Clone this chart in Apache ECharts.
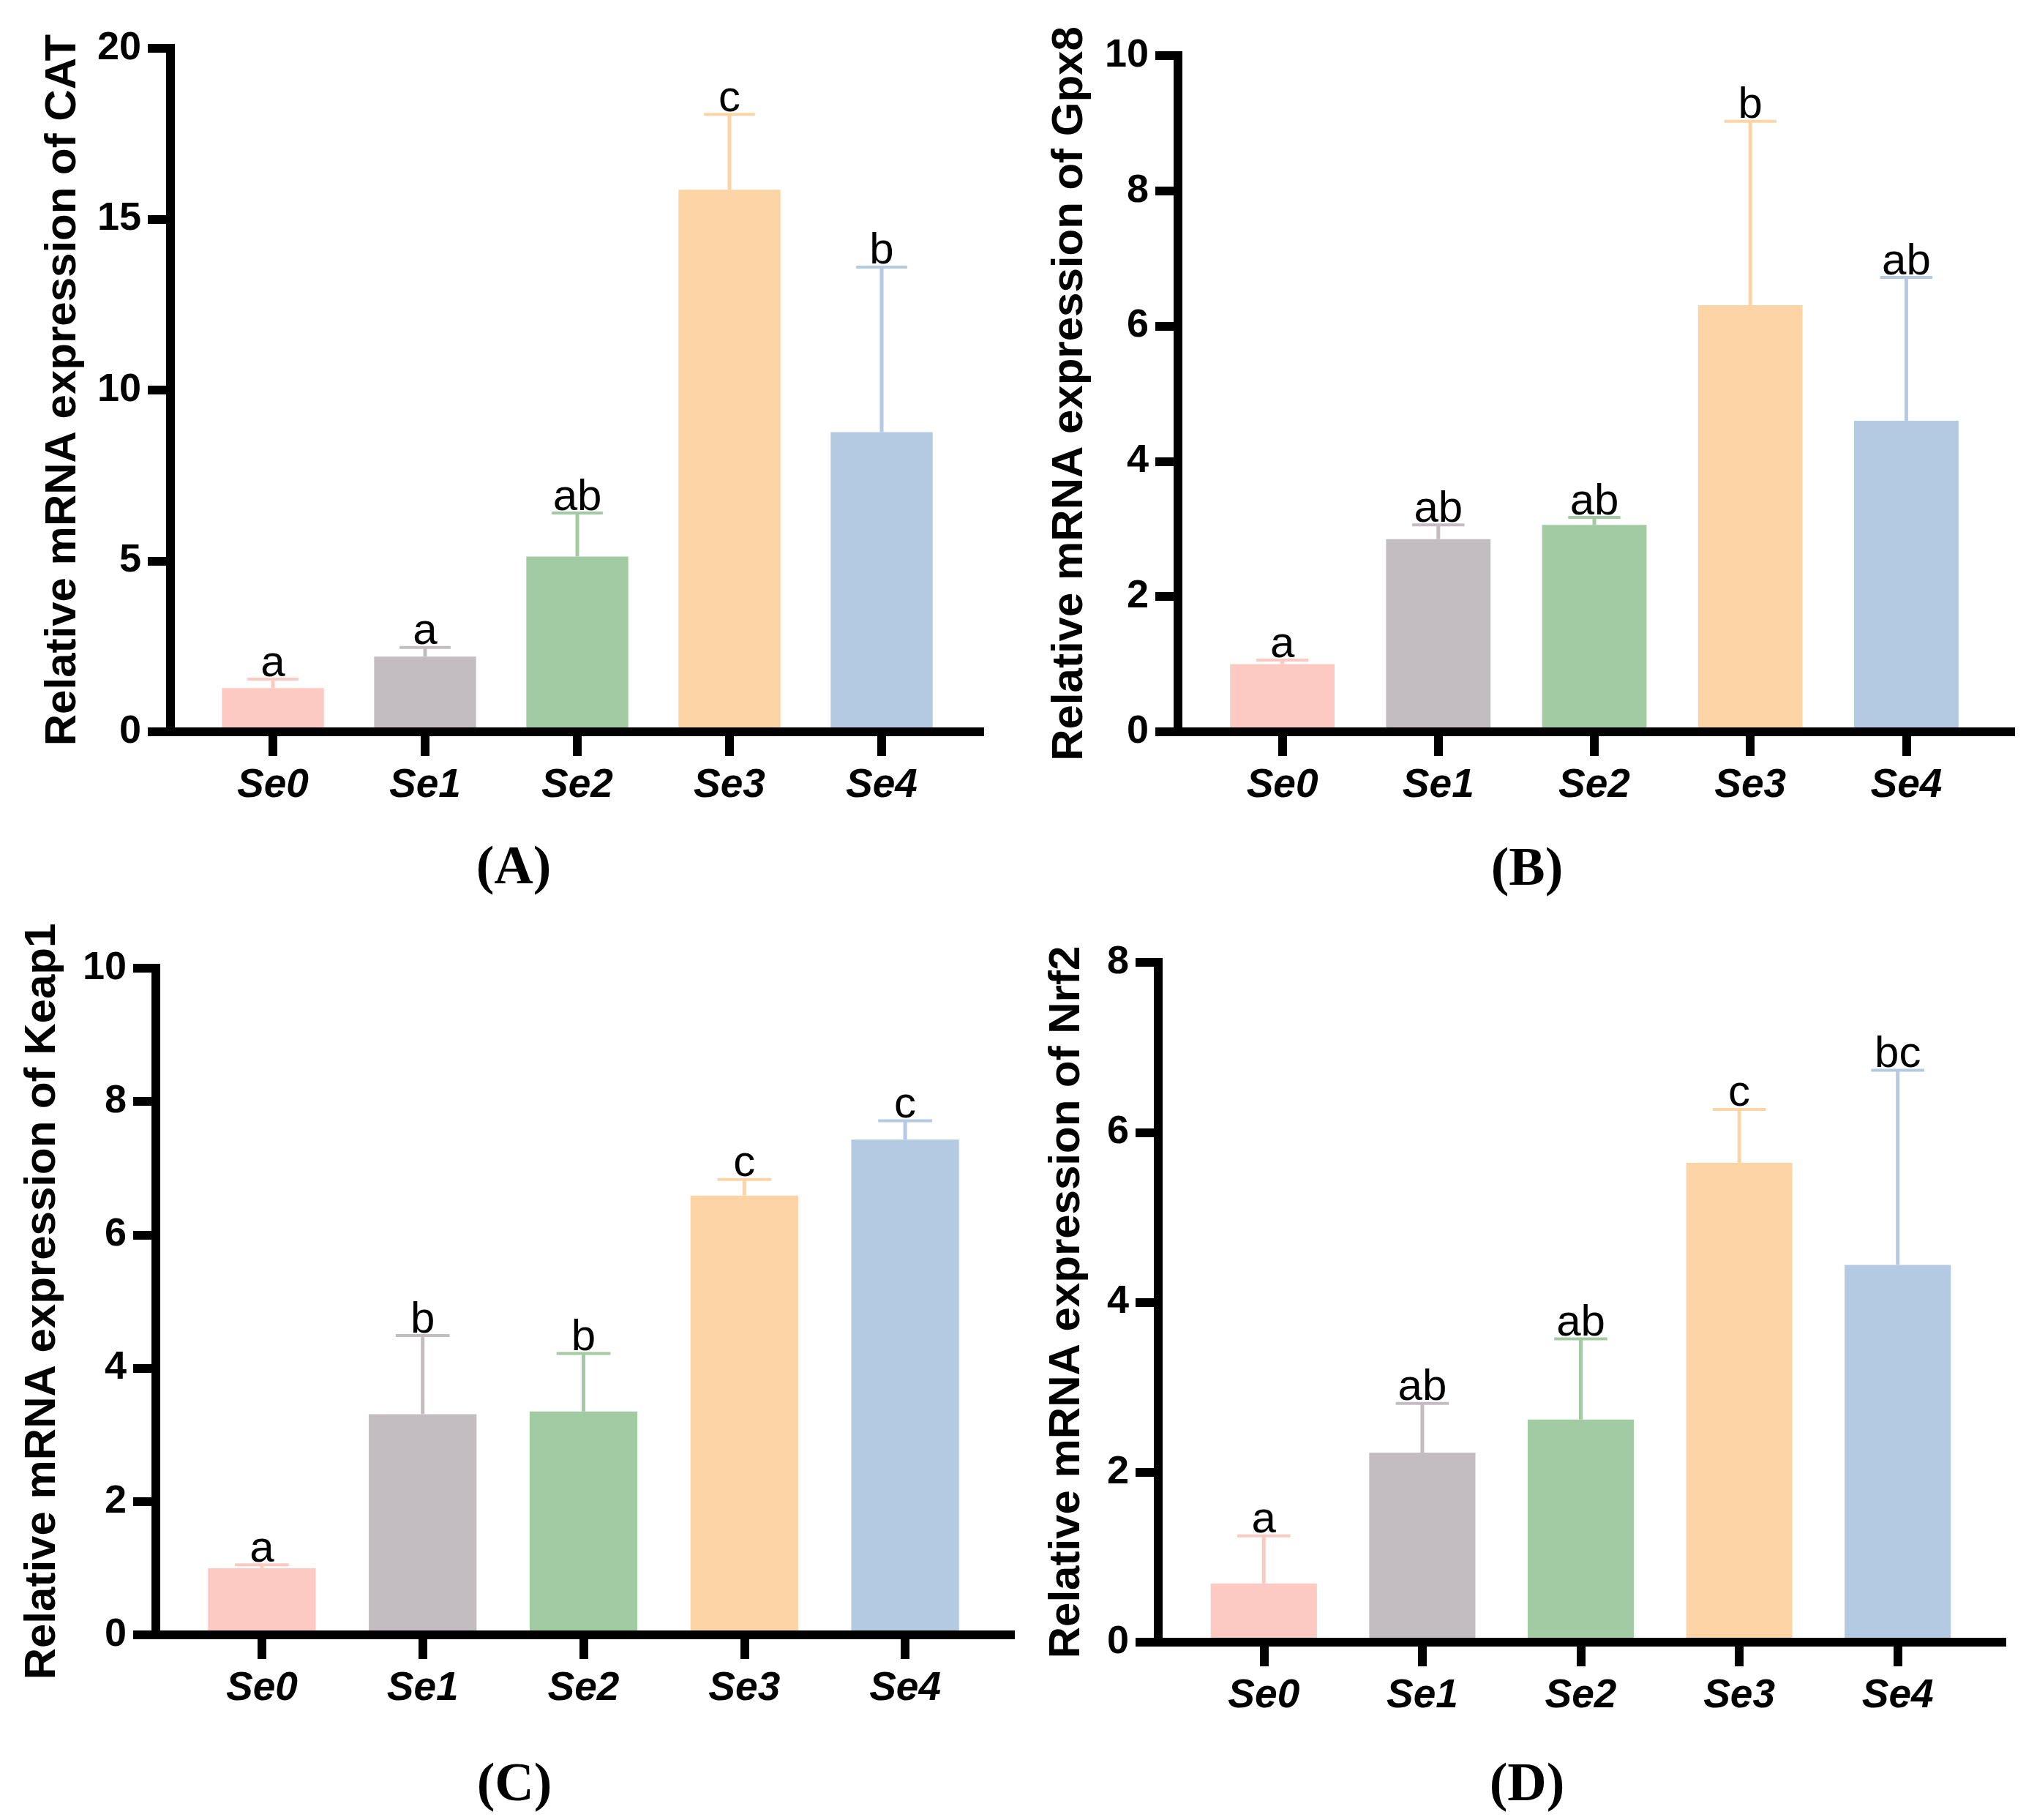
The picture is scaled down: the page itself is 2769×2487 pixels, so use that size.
<!DOCTYPE html>
<html>
<head>
<meta charset="utf-8">
<script src="https://cdn.jsdelivr.net/npm/echarts@6/dist/echarts.min.js"></script>
<style>
  html, body { margin: 0; padding: 0; background: #fff; }
  #chart { width: 2769px; height: 2487px; }
</style>
</head>
<body>
<div id="chart"></div>
<script>
// groups on the x axis
const categories = ['Se0', 'Se1', 'Se2', 'Se3', 'Se4'];
const barColors = ['#FDCAC3', '#C3BDC1', '#A3CBA3', '#FDD4A6', '#B4C9E2'];

// (A) CAT
const catMean = [1.28, 2.2, 5.13, 15.86, 8.77];
const catSd = [0.26, 0.27, 1.27, 2.21, 4.83];
const catLetters = ['a', 'a', 'ab', 'c', 'b'];
const catTicks = [0, 5, 10, 15, 20];

// (B) Gpx8
const gpx8Mean = [1.0, 2.85, 3.06, 6.31, 4.6];
const gpx8Sd = [0.06, 0.21, 0.11, 2.72, 2.12];
const gpx8Letters = ['a', 'ab', 'ab', 'b', 'ab'];
const gpx8Ticks = [0, 2, 4, 6, 8, 10];

// (C) Keap1
const keap1Mean = [1.0, 3.31, 3.35, 6.59, 7.43];
const keap1Sd = [0.05, 1.18, 0.87, 0.24, 0.28];
const keap1Letters = ['a', 'b', 'b', 'c', 'c'];
const keap1Ticks = [0, 2, 4, 6, 8, 10];

// (D) Nrf2
const nrf2Mean = [0.69, 2.23, 2.62, 5.64, 4.44];
const nrf2Sd = [0.56, 0.58, 0.95, 0.63, 2.29];
const nrf2Letters = ['a', 'ab', 'ab', 'c', 'bc'];
const nrf2Ticks = [0, 2, 4, 6, 8];

const panels = [
  { tag: '(A)', title: 'Relative mRNA expression of CAT', mean: catMean, sd: catSd, letters: catLetters, ticks: catTicks },
  { tag: '(B)', title: 'Relative mRNA expression of Gpx8', mean: gpx8Mean, sd: gpx8Sd, letters: gpx8Letters, ticks: gpx8Ticks },
  { tag: '(C)', title: 'Relative mRNA expression of Keap1', mean: keap1Mean, sd: keap1Sd, letters: keap1Letters, ticks: keap1Ticks },
  { tag: '(D)', title: 'Relative mRNA expression of Nrf2', mean: nrf2Mean, sd: nrf2Sd, letters: nrf2Letters, ticks: nrf2Ticks },
];

// pixel layout of each panel (axis position, plot band, title gap, tag position)
const layout = [
  { axisX: 233, top: 66, zero: 1000, axisEnd: 1345, bandStart: 269, bandEnd: 1309, nameGap: 117, tagX: 702, tagY: 1188 },
  { axisX: 1610, top: 76, zero: 1000, axisEnd: 2754, bandStart: 1646, bandEnd: 2712, nameGap: 118, tagX: 2087, tagY: 1190 },
  { axisX: 213, top: 1323, zero: 2234, axisEnd: 1387, bandStart: 248, bandEnd: 1347, nameGap: 125, tagX: 703, tagY: 2441 },
  { axisX: 1583, top: 1315, zero: 2244, axisEnd: 2742, bandStart: 1619, bandEnd: 2702, nameGap: 95, tagX: 2087, tagY: 2441 },
];

const SANS = 'Liberation Sans';
const axisStroke = { color: '#000', width: 12, cap: 'square' };

const grid = [], xAxis = [], yAxis = [], series = [], graphic = [];

panels.forEach((p, i) => {
  const L = layout[i];
  const h = L.zero - L.top;
  const gFrame = 2 * i, gBars = 2 * i + 1;
  const yMax = p.ticks[p.ticks.length - 1];
  const step = p.ticks[1] - p.ticks[0];

  // frame grid: carries the y axis and the full-length x axis line
  grid.push({ left: L.axisX, top: L.top, width: L.axisEnd - 6 - L.axisX, height: h });
  // bar grid: the categories sit inside a band a bit off the y axis
  grid.push({ left: L.bandStart, top: L.top, width: L.bandEnd - L.bandStart, height: h });

  xAxis.push({
    gridIndex: gFrame, type: 'value', min: 0, max: 1, z: 10,
    axisLine: { show: true, onZero: false, lineStyle: axisStroke },
    axisTick: { show: false }, axisLabel: { show: false }, splitLine: { show: false }
  });
  xAxis.push({
    gridIndex: gBars, type: 'category', data: categories, z: 10,
    axisLine: { show: false },
    axisTick: { show: true, alignWithLabel: true, length: 33, lineStyle: { color: '#000', width: 12 } },
    axisLabel: {
      interval: 0, margin: 46, color: '#000', fontFamily: SANS,
      fontSize: 55, fontWeight: 'bold', fontStyle: 'italic'
    },
    splitLine: { show: false }
  });

  yAxis.push({
    gridIndex: gFrame, type: 'value', min: 0, max: yMax, interval: step, z: 10,
    axisLine: { show: true, onZero: false, lineStyle: axisStroke },
    axisTick: { show: true, length: 31, lineStyle: { color: '#000', width: 12 } },
    axisLabel: { margin: 40, color: '#000', fontFamily: SANS, fontSize: 54, fontWeight: 'bold' },
    splitLine: { show: false },
    name: p.title, nameLocation: 'middle', nameGap: L.nameGap, nameRotate: 90,
    nameTextStyle: { color: '#000', fontFamily: SANS, fontSize: 60, fontWeight: 'bold' }
  });
  yAxis.push({ gridIndex: gBars, type: 'value', min: 0, max: yMax, show: false });

  series.push({
    type: 'bar', xAxisIndex: gBars, yAxisIndex: gBars,
    data: p.mean, barWidth: '67%',
    itemStyle: { color: prm => barColors[prm.dataIndex] },
    emphasis: { disabled: true }
  });

  // mean + SD whisker with the significance letter on top
  series.push({
    type: 'custom', xAxisIndex: gBars, yAxisIndex: gBars, clip: false,
    data: p.mean.map((m, k) => [k, m, m + p.sd[k]]),
    renderItem: (params, api) => {
      const k = api.value(0);
      const base = api.coord([k, api.value(1)]);
      const tip = api.coord([k, api.value(2)]);
      const half = api.size([1, 0])[0] * 0.67 / 4;
      const c = barColors[k];
      return {
        type: 'group',
        children: [
          { type: 'line', shape: { x1: base[0], y1: base[1], x2: tip[0], y2: tip[1] }, style: { stroke: c, lineWidth: 5 } },
          { type: 'line', shape: { x1: tip[0] - half, y1: tip[1], x2: tip[0] + half, y2: tip[1] }, style: { stroke: c, lineWidth: 4 } },
          {
            type: 'text', x: tip[0], y: tip[1] + 9,
            style: {
              text: p.letters[k], fill: '#000', fontFamily: SANS, fontSize: 60,
              align: 'center', verticalAlign: 'bottom'
            }
          }
        ]
      };
    }
  });

  graphic.push({
    type: 'text', x: L.tagX, y: L.tagY,
    style: {
      text: p.tag, fill: '#000', fontFamily: 'Liberation Serif', fontSize: 74, fontWeight: 'bold',
      align: 'center', verticalAlign: 'middle'
    }
  });
});

const chart = echarts.init(document.getElementById('chart'));
chart.setOption({
  backgroundColor: '#fff',
  animation: false,
  grid, xAxis, yAxis, series, graphic
});
</script>
</body>
</html>
